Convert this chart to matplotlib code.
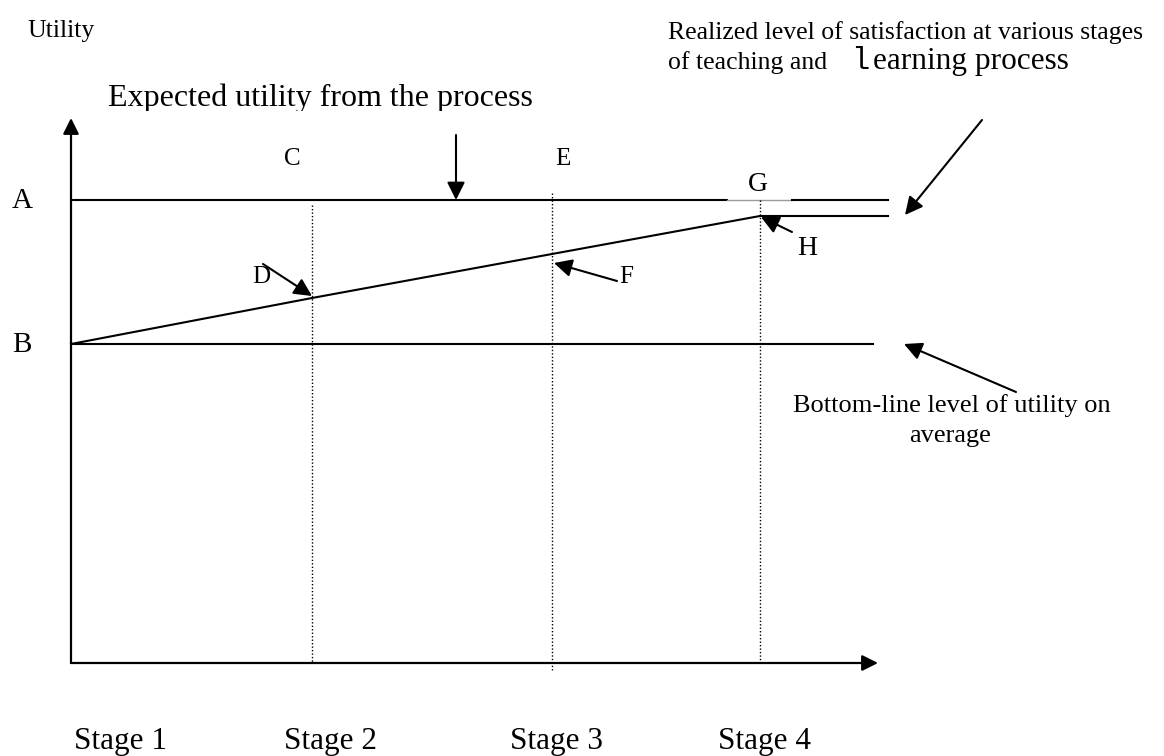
import matplotlib
matplotlib.use("Agg")
import matplotlib.pyplot as plt
from matplotlib.transforms import Bbox

# ---- data (diagram coordinates, pixel-like units, y grows downward) ----
stage_labels = ["Stage 1", "Stage 2", "Stage 3", "Stage 4"]
stage_x = [71, 312, 552, 760]          # positions of stages on the time axis
stage_label_x = [121, 330, 557, 765]
origin = (71, 663)
axis_end_x = 878
axis_top_y = 118
level_A = 200        # expected utility
level_B = 344        # bottom-line utility
realized_y = [344, 298, 254, 216]   # realized satisfaction at stage 1..4
line_end_A = 888
line_end_B = 873
line_end_R = 888

SERIF = ["Liberation Serif", "DejaVu Serif"]

fig = plt.figure(figsize=(11.64, 7.56), dpi=100)
ax = fig.add_axes([0, 0, 1, 1])
ax.set_xlim(0, 1164)
ax.set_ylim(756, 0)
ax.axis("off")

HEAD = "-|>,head_length=0.6,head_width=0.3"

def arrow(x0, y0, x1, y1, lw=1.5, ms=18):
    ax.annotate("", xy=(x1, y1), xytext=(x0, y0),
                arrowprops=dict(arrowstyle=HEAD, color="black", lw=lw,
                                mutation_scale=ms, shrinkA=0, shrinkB=0))

# axes
arrow(origin[0], origin[1], origin[0], axis_top_y, lw=1.6, ms=16)
arrow(origin[0], origin[1], axis_end_x, origin[1], lw=1.6, ms=16)

# level A (with thin gap at G)
ax.plot([origin[0], 727], [level_A, level_A], color="black", lw=1.5)
ax.plot([727, 792], [level_A, level_A], color="#9a9a9a", lw=1.0)
ax.plot([792, line_end_A], [level_A, level_A], color="black", lw=1.5)
# level B
ax.plot([origin[0], line_end_B], [level_B, level_B], color="black", lw=1.5)
# realized
ax.plot(stage_x, realized_y, color="black", lw=1.5)
ax.plot([stage_x[-1], line_end_R], [realized_y[-1], realized_y[-1]], color="black", lw=1.5)

# dotted verticals
dot = (0, (1, 1.5))
ax.plot([stage_x[1]] * 2, [205, origin[1]], color="black", lw=1.0, ls=dot)
ax.plot([stage_x[2]] * 2, [193, 670], color="black", lw=1.0, ls=dot)
ax.plot([stage_x[3]] * 2, [200, origin[1]], color="black", lw=1.0, ls=dot)

# pointer arrows
arrow(456, 135, 456, level_A)
arrow(263, 264, stage_x[1], realized_y[1] - 2)
arrow(617, 281, stage_x[2] + 2, realized_y[2] + 9)
arrow(792, 232, stage_x[3] + 1, realized_y[3] + 1)
arrow(982, 120, 905, 215)
arrow(1016, 392, 904, 344)

def txt(x, y, s, size, ha="left", family=SERIF, **kw):
    return ax.text(x, y, s, fontsize=size, ha=ha, va="baseline", family=family, **kw)

txt(27, 37, "Utility", 18.5)
t = txt(108, 106, "Expected utility from the process", 23)
t.set_clip_on(True)
t.set_clip_box(Bbox.from_extents(0, 756 - 111, 1164, 756))

txt(668, 39, "Realized level of satisfaction at various stages", 18.5)
txt(668, 69, "of teaching and", 18.5)
txt(851, 69, "l", 22, family=["Liberation Mono", "DejaVu Sans Mono"])
txt(873, 69, "earning process", 22.5)

txt(952, 412, "Bottom-line level of utility on", 19, ha="center")
txt(950, 442, "average", 19, ha="center")

txt(12, 208, "A", 21)
txt(12, 352, "B", 21)
txt(292, 165, "C", 18, ha="center")
txt(563, 165, "E", 18, ha="center")
txt(758, 191, "G", 20, ha="center")
txt(807, 255, "H", 20, ha="center")
txt(252, 283, "D", 18)
txt(619, 283, "F", 18)

for x, s in zip(stage_label_x, stage_labels):
    txt(x, 749, s, 22.5, ha="center")

fig.savefig("out.png", dpi=100)
